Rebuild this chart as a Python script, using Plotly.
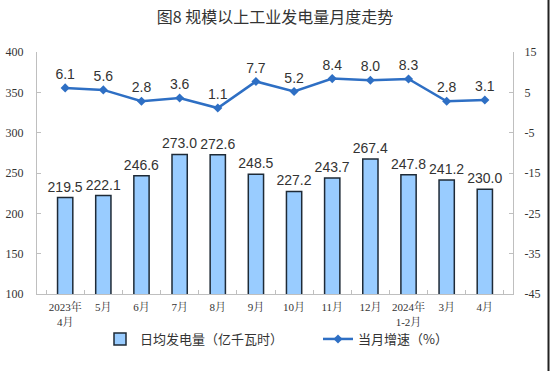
import plotly.graph_objects as go

categories = ["2023年<br>4月", "5月", "6月", "7月", "8月", "9月", "10月", "11月", "12月",
              "2024年<br>1-2月", "3月", "4月"]
daily_output = [219.5, 222.1, 246.6, 273.0, 272.6, 248.5, 227.2, 243.7, 267.4, 247.8, 241.2, 230.0]
growth_rate = [6.1, 5.6, 2.8, 3.6, 1.1, 7.7, 5.2, 8.4, 8.0, 8.3, 2.8, 3.1]

left_ticks = [100, 150, 200, 250, 300, 350, 400]
right_ticks = [-45, -35, -25, -15, -5, 5, 15]
right_tick_labels = ["-45", "-35", "-25", "-15", "-5", "5", "15"]

axis_color = "#bfbfbf"
text_color = "#333333"
serif = "Times New Roman, Liberation Serif, Noto Serif CJK SC, Noto Sans CJK SC, serif"
sans = "Arial, Liberation Sans, Noto Sans CJK SC, sans-serif"
cjk = "Noto Sans CJK SC, sans-serif"

fig = go.Figure()
fig.add_trace(go.Bar(
    x=categories, y=daily_output, name="日均发电量（亿千瓦时）",
    marker=dict(color="#99ccff", line=dict(color="#1e2a36", width=1.5)),
    text=daily_output, texttemplate="%{y:.1f}", textposition="outside",
    constraintext="none",
    textfont=dict(family=sans, size=14, color=text_color),
    cliponaxis=False, width=0.4, legend="legend",
))
fig.add_trace(go.Scatter(
    x=categories, y=growth_rate, name="当月增速（%）", yaxis="y2",
    mode="lines+markers+text",
    line=dict(color="#2e6fc4", width=2.5),
    marker=dict(symbol="diamond", size=7, color="#2e6fc4"),
    text=growth_rate, texttemplate="%{y:.1f}", textposition="top center",
    textfont=dict(family=sans, size=14, color=text_color),
    cliponaxis=False, legend="legend2",
))

fig.update_layout(
    width=550, height=371,
    margin=dict(l=37, r=37, t=52, b=77, autoexpand=False),
    paper_bgcolor="white", plot_bgcolor="white",
    title=dict(text="图8 规模以上工业发电量月度走势", x=0.5, xanchor="center",
               yref="container", y=1 - 17 / 371, yanchor="middle",
               font=dict(family=cjk, size=16, color="#333333")),
    bargap=0.6,
    xaxis=dict(
        automargin=False,
        showline=True, linecolor=axis_color, linewidth=1,
        ticks="inside", tickson="boundaries", ticklen=4, tickcolor=axis_color,
        tickangle=0,
        tickfont=dict(family=serif, size=11, color=text_color),
        ticklabelstandoff=3,
        showgrid=False, zeroline=False,
    ),
    yaxis=dict(
        automargin=False,
        range=[100, 400], tickvals=left_ticks,
        showline=True, linecolor=axis_color, linewidth=1,
        ticks="inside", ticklen=4, tickcolor=axis_color,
        tickfont=dict(family=serif, size=12, color=text_color),
        ticklabelstandoff=10,
        showgrid=False, zeroline=False,
    ),
    yaxis2=dict(
        automargin=False,
        range=[-45, 15], tickvals=right_ticks, ticktext=right_tick_labels,
        overlaying="y", side="right",
        showline=True, linecolor=axis_color, linewidth=1,
        ticks="inside", ticklen=4, tickcolor=axis_color,
        tickfont=dict(family=serif, size=12, color=text_color),
        ticklabelstandoff=8,
        showgrid=False, zeroline=False,
    ),
    legend=dict(orientation="h", xref="container", x=100 / 550, xanchor="left",
                yref="container", y=1 - 339 / 371, yanchor="middle",
                font=dict(family=cjk, size=13, color=text_color),
                bgcolor="rgba(0,0,0,0)"),
    legend2=dict(orientation="h", xref="container", x=318 / 550, xanchor="left",
                 yref="container", y=1 - 339 / 371, yanchor="middle",
                 font=dict(family=cjk, size=13, color=text_color),
                 bgcolor="rgba(0,0,0,0)"),
    showlegend=True,
    shapes=[dict(type="line", xref="paper", yref="paper",
                 x0=(548.5 - 37) / 476, x1=(548.5 - 37) / 476,
                 y0=-77 / 242, y1=(371 - 77) / 242,
                 line=dict(color="#222222", width=2))],
)

fig.write_html(
    "out.html",
    config={"displayModeBar": False},
    post_script="document.body.style.margin='0';document.body.style.overflow='hidden';",
)
